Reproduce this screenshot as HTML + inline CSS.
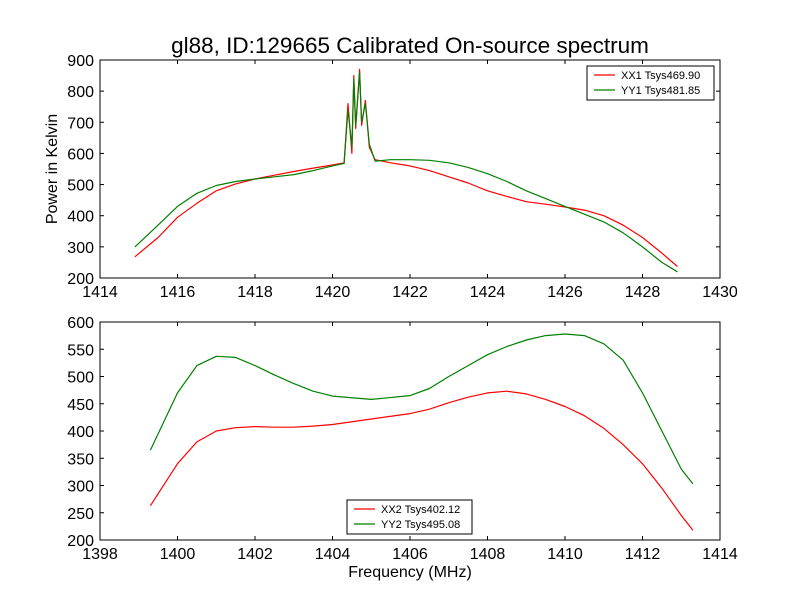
<!DOCTYPE html>
<html><head><meta charset="utf-8"><style>
body{margin:0;background:#fff}
svg{font-family:"Liberation Sans","DejaVu Sans",sans-serif}
</style></head><body>
<svg id="c" width="800" height="600" viewBox="0 0 800 600">
<rect width="800" height="600" fill="#fff"/>
<text x="410" y="53" font-size="22.5" text-anchor="middle">gl88, ID:129665 Calibrated On-source spectrum</text>
</svg>
<script>
const topX1 = [1414.9,1415.5,1416,1416.5,1417,1417.5,1418,1418.5,1419,1419.5,1420,1420.3,1420.4,1420.5,1420.55,1420.6,1420.7,1420.75,1420.85,1420.95,1421.1,1421.5,1422,1422.5,1423,1423.5,1424,1424.5,1425,1425.5,1426,1426.5,1427,1427.5,1428,1428.5,1428.9];
const xx1 = [268,330,395,440,480,502,518,530,542,553,563,570,760,600,850,680,870,690,770,620,580,570,560,545,525,505,480,462,445,437,428,418,400,370,330,280,237];
const yy1 = [300,370,430,472,497,510,518,525,532,545,560,568,740,620,840,690,860,700,760,630,575,580,580,578,570,555,535,510,480,455,430,405,380,345,300,250,220];
const botX = [1399.3,1400,1400.5,1401,1401.5,1402,1402.5,1403,1403.5,1404,1405,1406,1406.5,1407,1407.5,1408,1408.5,1409,1409.5,1410,1410.5,1411,1411.5,1412,1412.5,1413,1413.3];
const xx2 = [263,340,380,400,406,408,407,407,409,412,422,432,440,452,462,470,473,468,458,445,428,405,375,340,295,245,218];
const yy2 = [365,470,520,537,535,520,503,487,473,464,458,465,478,500,520,540,555,567,575,578,575,560,530,470,400,330,303];
const topXTicks = [1414,1416,1418,1420,1422,1424,1426,1428,1430];
const topYTicks = [200,300,400,500,600,700,800,900];
const botXTicks = [1398,1400,1402,1404,1406,1408,1410,1412,1414];
const botYTicks = [200,250,300,350,400,450,500,550,600];

const svg = document.getElementById('c');
const NS = 'http://www.w3.org/2000/svg';
function mk(tag, attrs, parent){const e=document.createElementNS(NS,tag);for(const k in attrs)e.setAttribute(k,attrs[k]);(parent||svg).appendChild(e);return e;}

function panel(name, x0,x1,y0,y1, L,R,T,B, xt, yt, series, legend, xlabel, ylabel){
  const g = mk('g',{});
  
  
  const sx = v => L + (v-x0)/(x1-x0)*(R-L);
  const sy = v => B - (v-y0)/(y1-y0)*(B-T);
  series.forEach(s=>{
    const p = mk('polyline',{points:s.x.map((v,i)=>sx(v).toFixed(1)+','+sy(s.y[i]).toFixed(1)).join(' '),fill:'none',stroke:s.c,'stroke-width':1.2,'stroke-linejoin':'round'},g);
    
    
  });
  const fr = mk('rect',{x:L,y:T,width:R-L,height:B-T,fill:'none',stroke:'#000','stroke-width':1},g);
  
  
  xt.forEach(v=>{
    const x=sx(v);
    mk('line',{x1:x,x2:x,y1:B,y2:B-4,stroke:'#000'},g);
    mk('line',{x1:x,x2:x,y1:T,y2:T+4,stroke:'#000'},g);
    const t=mk('text',{x:x,y:B+19,'font-size':16,'text-anchor':'middle'},g);
    t.textContent=v;
    
    
  });
  yt.forEach(v=>{
    const y=sy(v);
    mk('line',{x1:L,x2:L+4,y1:y,y2:y,stroke:'#000'},g);
    mk('line',{x1:R,x2:R-4,y1:y,y2:y,stroke:'#000'},g);
    const t=mk('text',{x:L-6,y:y+6,'font-size':16,'text-anchor':'end'},g);
    t.textContent=v;
    
    
  });
  const lg = mk('g',{},g);
  
  
  mk('rect',{x:legend.x,y:legend.y,width:legend.w,height:34,fill:'#fff',stroke:'#000'},lg);
  series.forEach((s,i)=>{
    const yy=legend.y+9+i*15;
    mk('line',{x1:legend.x+7,x2:legend.x+28,y1:yy,y2:yy,stroke:s.c,'stroke-width':1.2},lg);
    const t=mk('text',{x:legend.x+34,y:yy+4,'font-size':11},lg);
    t.textContent=s.label;
    
    
  });
  if(xlabel){const t=mk('text',{x:(L+R)/2,y:B+37,'font-size':16,'text-anchor':'middle'},g);t.textContent=xlabel;
    
    }
  if(ylabel){const t=mk('text',{x:0,y:0,'font-size':16,'text-anchor':'middle',transform:`translate(57,${(T+B)/2}) rotate(-90)`},g);t.textContent=ylabel;
    
    }
}
panel('top-panel',1414,1430,200,900,100,720,60,278,topXTicks,topYTicks,
  [{x:topX1,y:xx1,c:'#ff0000',n:'xx1-line',label:'XX1 Tsys469.90'},{x:topX1,y:yy1,c:'#008000',n:'yy1-line',label:'YY1 Tsys481.85'}],
  {x:587,y:66,w:127},null,'Power in Kelvin');
panel('bottom-panel',1398,1414,200,600,100,720,322,540,botXTicks,botYTicks,
  [{x:botX,y:xx2,c:'#ff0000',n:'xx2-line',label:'XX2 Tsys402.12'},{x:botX,y:yy2,c:'#008000',n:'yy2-line',label:'YY2 Tsys495.08'}],
  {x:347,y:500,w:125},'Frequency (MHz)',null);
</script>
</body></html>
